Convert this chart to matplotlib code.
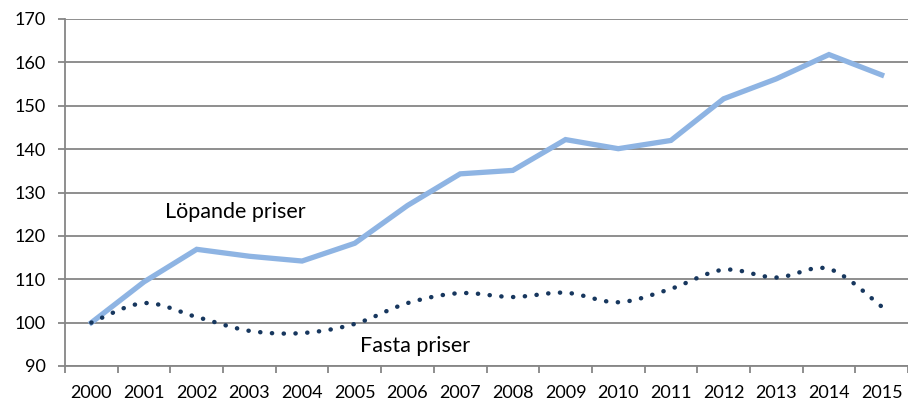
import numpy as np
import matplotlib.pyplot as plt
from matplotlib.path import Path
from matplotlib.patches import PathPatch

# Data (index, 2000 = 100)
years = [str(y) for y in range(2000, 2016)]
lopande = [100.0, 109.4, 116.9, 115.3, 114.2, 118.3, 127.0, 134.3,
           135.1, 142.2, 140.1, 142.0, 151.6, 156.2, 161.8, 157.1]
fasta = [100.0, 104.5, 101.3, 98.1, 97.6, 99.7, 104.5, 106.8,
         105.9, 106.9, 104.7, 107.8, 112.2, 110.4, 112.4, 103.7]
yticks = [90, 100, 110, 120, 130, 140, 150, 160, 170]

plt.rcParams['font.family'] = ['Lato', 'DejaVu Sans']
grid_col = '#868686'


# Smoothed path (Excel-like) built from the data points as Bezier control points
def smooth_path(xs, ys):
    pts = np.column_stack([xs, ys])
    n = len(pts)
    verts = [pts[0]]
    codes = [Path.MOVETO]
    for i in range(n - 1):
        p0 = pts[i - 1] if i > 0 else pts[i]
        p1 = pts[i]
        p2 = pts[i + 1]
        p3 = pts[i + 2] if i + 2 < n else pts[i + 1]
        c1 = p1 + (p2 - p0) / 6.0
        c2 = p2 - (p3 - p1) / 6.0
        verts += [c1, c2, p2]
        codes += [Path.CURVE4] * 3
    return Path(verts, codes)


fig = plt.figure(figsize=(9.08, 4.03), dpi=100)
ax = fig.add_axes([65 / 908, 37 / 403, 843 / 908, 347 / 403])

x = np.arange(len(years))

ax.plot(x, lopande, color='#8EB4E3', lw=3.8, solid_joinstyle='miter', zorder=3)

patch = PathPatch(smooth_path(x, fasta), facecolor='none', edgecolor='#17375E',
                  lw=3.2, linestyle=(0, (0.05, 2.6)), capstyle='round', zorder=4)
ax.add_patch(patch)

ax.set_xlim(-0.5, len(years) - 0.5)
ax.set_ylim(90, 170)
ax.set_yticks(yticks)
ax.set_xticks(x)
ax.set_xticklabels(years)
ax.set_xticks(np.arange(-0.5, len(years)), minor=True)

ax.grid(axis='y', color=grid_col, lw=1.3)
ax.set_axisbelow(True)
for s in ['top', 'right']:
    ax.spines[s].set_visible(False)
ax.spines['left'].set_color(grid_col)
ax.spines['bottom'].set_color(grid_col)
ax.spines['left'].set_linewidth(1.3)
ax.spines['bottom'].set_linewidth(1.3)

ax.tick_params(axis='y', length=5, width=1.3, color=grid_col, pad=9, labelsize=13)
ax.tick_params(axis='x', which='major', length=0, pad=14, labelsize=13)
ax.tick_params(axis='x', which='minor', length=5, width=1.3, color=grid_col)

ax.text(1.4, 125.5, 'Löpande priser', fontsize=15.5, va='center', ha='left')
ax.text(5.1, 94.7, 'Fasta priser', fontsize=15.5, va='center', ha='left')

fig.savefig('out.png', dpi=100)
